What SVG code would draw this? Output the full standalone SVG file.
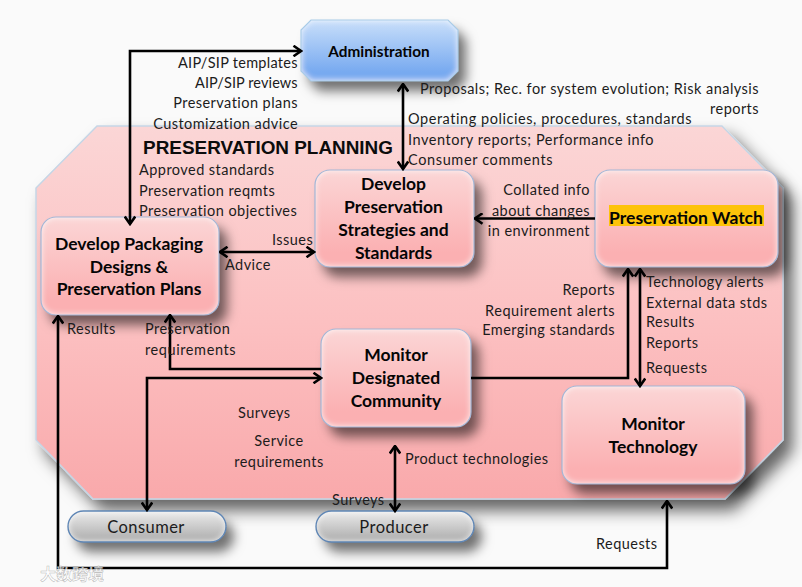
<svg xmlns="http://www.w3.org/2000/svg" width="802" height="587" viewBox="0 0 802 587">
<style>
.t{font-family:"Lato","Carlito","Liberation Sans",sans-serif;font-size:14.5px;fill:#1c1c1c;letter-spacing:.45px}
.b{font-family:"Lato","Carlito","Liberation Sans",sans-serif;font-size:17.5px;font-weight:700;fill:#050505;text-anchor:middle}
.e{text-anchor:end}
.m{text-anchor:middle}
.c{fill:none;stroke:#000;stroke-width:2.6;marker-end:url(#a)}
.d{fill:none;stroke:#000;stroke-width:2.6;marker-end:url(#a);marker-start:url(#s)}
.box{fill:url(#p);filter:url(#sh)}
.pill{fill:url(#g);filter:url(#sh)}
.ol{fill:none;stroke:#a3b6d6;stroke-width:1.2}
.olp{fill:none;stroke:#5f86b5;stroke-width:1.4}
</style>
<defs>
<linearGradient id="bg" x1="0" y1="0" x2="0" y2="1"><stop offset="0" stop-color="#fbd6d6"/><stop offset=".55" stop-color="#fcbfc0"/><stop offset="1" stop-color="#f9a9ab"/></linearGradient>
<linearGradient id="p" x1="0" y1="0" x2="0" y2="1"><stop offset="0" stop-color="#fbd6d6"/><stop offset=".85" stop-color="#fbb0b2"/><stop offset="1" stop-color="#fbb0b2"/></linearGradient>
<linearGradient id="bl1" x1="0" y1="0" x2="0" y2="1"><stop offset="0" stop-color="#c9dffa"/><stop offset=".85" stop-color="#78aaf0"/><stop offset="1" stop-color="#78aaf0"/></linearGradient>
<linearGradient id="g" x1="0" y1="0" x2="0" y2="1"><stop offset="0" stop-color="#ececec"/><stop offset=".85" stop-color="#b4b4b4"/><stop offset="1" stop-color="#b4b4b4"/></linearGradient>
<filter id="sh" x="-30%" y="-40%" width="170%" height="230%">
<feGaussianBlur in="SourceAlpha" stdDeviation="6"/><feOffset dx="8" dy="10" result="o"/>
<feFlood flood-color="#000" flood-opacity=".55"/><feComposite in2="o" operator="in" result="shadow"/>
<feFlood flood-color="#fff" flood-opacity=".85"/><feComposite in2="SourceAlpha" operator="out" result="inv"/>
<feGaussianBlur in="inv" stdDeviation="3" result="ib"/><feComposite in="ib" in2="SourceAlpha" operator="in" result="glow"/>
<feMerge><feMergeNode in="shadow"/><feMergeNode in="SourceGraphic"/><feMergeNode in="glow"/></feMerge>
</filter>
<filter id="big" x="-10%" y="-10%" width="125%" height="130%"><feDropShadow dx="9" dy="11" stdDeviation="8" flood-color="#000" flood-opacity=".6"/></filter>
<marker id="a" viewBox="0 0 12 12" refX="10.5" refY="6" markerUnits="userSpaceOnUse" markerWidth="12" markerHeight="12" orient="auto"><path d="M3 .8 10.500 6 3 11.200" fill="none" stroke="#000" stroke-width="2.6"/></marker>
<marker id="s" viewBox="0 0 12 12" refX="1.5" refY="6" markerUnits="userSpaceOnUse" markerWidth="12" markerHeight="12" orient="auto"><path d="M9 .8 1.500 6 9 11.200" fill="none" stroke="#000" stroke-width="2.6"/></marker>
</defs>
<rect width="802" height="587" fill="#fafafa"/>

<g id="preservation-planning">
<path d="M97 126H722L783 188V440L725 499H93L36 440V188Z" fill="url(#bg)" stroke="#c5d6e6" stroke-width="1.5" filter="url(#big)"/>
<text x="268" y="154" text-anchor="middle" font-family="Liberation Sans,Arial,sans-serif" font-size="18.9" font-weight="700" fill="#0c0c0c">PRESERVATION PLANNING</text>
</g>

<g id="administration">
<path d="M311 20H448L458 30V71L448 81H311L301 71V30Z" fill="url(#bl1)" filter="url(#sh)"/>
<path class="ol" d="M311 20H448L458 30V71L448 81H311L301 71V30Z" style="stroke:#a8cbe8"/>
<text class="b" x="379" y="57" style="font-size:15.3px">Administration</text>
</g>
<g id="develop-strategies">
<rect class="box" x="315" y="170" width="159" height="97" rx="15"/>
<rect class="ol" x="315" y="170" width="159" height="97" rx="15"/>
<text class="b" x="393.500" y="190">Develop</text>
<text class="b" x="393.500" y="213">Preservation</text>
<text class="b" x="393.500" y="236">Strategies and</text>
<text class="b" x="393.500" y="259">Standards</text>
</g>
<g id="develop-packaging">
<rect class="box" x="41" y="217" width="178" height="98" rx="15"/>
<rect class="ol" x="41" y="217" width="178" height="98" rx="15"/>
<text class="b" x="129" y="250">Develop Packaging</text>
<text class="b" x="129" y="273">Designs &amp;</text>
<text class="b" x="129" y="295">Preservation Plans</text>
</g>
<g id="preservation-watch">
<rect class="box" x="595" y="170" width="183" height="97" rx="15"/>
<rect class="ol" x="595" y="170" width="183" height="97" rx="15"/>
<rect x="609" y="205" width="155" height="21" fill="#fdc30a"/>
<text class="b" x="686" y="224">Preservation Watch</text>
</g>
<g id="monitor-community">
<rect class="box" x="321" y="329" width="150" height="98" rx="15"/>
<rect class="ol" x="321" y="329" width="150" height="98" rx="15"/>
<text class="b" x="396" y="361">Monitor</text>
<text class="b" x="396" y="384">Designated</text>
<text class="b" x="396" y="407">Community</text>
</g>
<g id="monitor-technology">
<rect class="box" x="562" y="386" width="183" height="98" rx="15"/>
<rect class="ol" x="562" y="386" width="183" height="98" rx="15"/>
<text class="b" x="653" y="430">Monitor</text>
<text class="b" x="653" y="453">Technology</text>
</g>
<g id="consumer">
<rect class="pill" x="68" y="511" width="158" height="31" rx="15.500"/>
<rect class="olp" x="68" y="511" width="158" height="31" rx="15.500"/>
<text class="t m" x="146" y="533" style="font-size:16.500px">Consumer</text>
</g>
<g id="producer">
<rect class="pill" x="316" y="511" width="158" height="31" rx="15.500"/>
<rect class="olp" x="316" y="511" width="158" height="31" rx="15.500"/>
<text class="t m" x="394" y="533" style="font-size:16.500px">Producer</text>
</g>

<g id="connectors">
<path class="d" d="M130 224V51H301"/>
<path class="d" d="M403 84V169"/>
<path class="d" d="M220 252H314"/>
<path class="c" d="M595 218.500H475"/>
<path class="c" d="M471 378H628V269"/>
<path class="d" d="M640 269V386"/>
<path class="c" d="M321 369H170V315"/>
<path class="d" d="M147 510V378H321"/>
<path class="d" d="M395 446V511"/>
<path class="d" d="M58 316V568H667V501"/>
</g>

<g id="labels">
<text class="t" x="178" y="68" textLength="120">AIP/SIP templates</text>
<text class="t" x="195" y="88" textLength="103">AIP/SIP reviews</text>
<text class="t e" x="298" y="108">Preservation plans</text>
<text class="t e" x="298" y="129">Customization advice</text>
<text class="t" x="139" y="175">Approved standards</text>
<text class="t" x="139" y="196">Preservation reqmts</text>
<text class="t" x="139" y="216">Preservation objectives</text>
<text class="t" x="420" y="94" textLength="339">Proposals; Rec. for system evolution; Risk analysis</text>
<text class="t e" x="759" y="114">reports</text>
<text class="t" x="408" y="124" textLength="284">Operating policies, procedures, standards</text>
<text class="t" x="408" y="145" textLength="246">Inventory reports; Performance info</text>
<text class="t" x="408" y="165" textLength="145">Consumer comments</text>
<text class="t e" x="590" y="195">Collated info</text>
<text class="t e" x="590" y="216">about changes</text>
<text class="t e" x="590" y="236">in environment</text>
<text class="t" x="272" y="245">Issues</text>
<text class="t" x="225" y="270">Advice</text>
<text class="t" x="67" y="334">Results</text>
<text class="t" x="145" y="334">Preservation</text>
<text class="t" x="145" y="355" textLength="91">requirements</text>
<text class="t e" x="615" y="295">Reports</text>
<text class="t" x="485" y="316" textLength="130">Requirement alerts</text>
<text class="t e" x="615" y="335">Emerging standards</text>
<text class="t" x="646" y="287" textLength="118">Technology alerts</text>
<text class="t" x="646" y="308">External data stds</text>
<text class="t" x="646" y="327">Results</text>
<text class="t" x="646" y="348">Reports</text>
<text class="t" x="646" y="373">Requests</text>
<text class="t" x="238" y="418">Surveys</text>
<text class="t m" x="279" y="446">Service</text>
<text class="t m" x="279" y="467">requirements</text>
<text class="t" x="405" y="464">Product technologies</text>
<text class="t" x="332" y="505">Surveys</text>
<text class="t" x="596" y="549">Requests</text>
<text x="40" y="580" font-family="Noto Sans CJK SC,sans-serif" font-size="16" font-weight="700" fill="#fff" fill-opacity=".75" stroke="#8a8a8a" stroke-opacity=".6" stroke-width=".5">大数跨境</text>
</g>
</svg>
